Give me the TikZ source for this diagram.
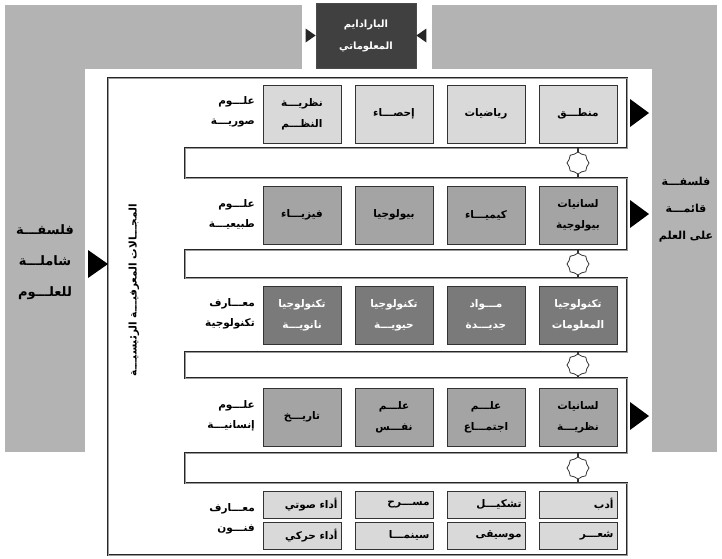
\documentclass[tikz,border=0pt]{standalone}
\usepackage{fontspec}
\usepackage{xcolor}
\usetikzlibrary{shapes.geometric}
\newfontfamily\arabicfont[Script=Arabic]{DejaVu Sans}
\TeXXeTstate=1
\definecolor{panelgray}{HTML}{B3B3B3}
\definecolor{lightbox}{HTML}{D9D9D9}
\definecolor{midbox}{HTML}{A4A4A4}
\definecolor{darkbox}{HTML}{7A7A7A}
\definecolor{topbox}{HTML}{404040}
\newcommand{\ar}[1]{\beginR #1\endR}

\begin{document}
\begin{tikzpicture}[x=1pt,y=-1pt,
    field/.style={draw=black!80, line width=0.9pt, minimum width=78pt, minimum height=58pt, inner sep=1pt, align=center, font=\arabicfont\bfseries\fontsize{10.5}{21}\selectfont},
    artfield/.style={field, minimum height=27pt, text width=71pt, align=right},
    rowlabel/.style={anchor=east, align=right, inner sep=1pt, font=\arabicfont\bfseries\fontsize{10.5}{20}\selectfont},
    sidetext/.style={align=center, inner sep=1pt, font=\arabicfont\bfseries\fontsize{13}{31}\selectfont},
    gear/.style={star, star points=8, star point ratio=1.15, draw=black!80, line width=0.8pt, fill=white, minimum size=22pt, inner sep=0pt}]
  \useasboundingbox (0,0) rectangle (722,558);
  % gray panels and white field
  \fill[panelgray] (5,5) rectangle (717,452);
  \fill[white] (85,69) rectangle (652,558);
  \fill[white] (302,0) rectangle (432,69);
  \node[sidetext] (holistic) at (45,262) {\ar{فلسفـــة}\\\ar{شاملـــة}\\\ar{للعلـــوم}};
  \node[sidetext, font=\arabicfont\bfseries\fontsize{11}{27}\selectfont] (based) at (686,210) {\ar{فلسفـــة}\\\ar{قائمـــة}\\\ar{على العلم}};
  % paradigm box
  \node[draw=black!70, line width=0.8pt, fill=topbox, text=white, minimum width=100pt, minimum height=65pt, align=center, font=\arabicfont\bfseries\fontsize{10}{22}\selectfont] (paradigm) at (366,35.5) {\ar{البارادايم}\\\ar{المعلوماتي}};
  \fill[black!85] (paradigm.west) -- ++(-10,-7) -- ++(0,14) -- cycle;
  \fill[black!85] (paradigm.east) -- ++(10,-7) -- ++(0,14) -- cycle;
  % comb frame
  \draw[draw=black!85, line width=0.7pt, double=black!40, double distance=0.6pt]
    (108,78) -- (627,78) -- (627,148) -- (185,148) -- (185,178) -- (627,178)
    -- (627,250) -- (185,250) -- (185,278) -- (627,278) -- (627,352)
    -- (185,352) -- (185,378) -- (627,378) -- (627,453) -- (185,453)
    -- (185,483) -- (627,483) -- (627,555) -- (108,555) -- cycle;
  \node[rotate=90, inner sep=1pt, font=\arabicfont\bfseries\fontsize{10.5}{12}\selectfont] (domains) at (134,290) {\ar{المجـــالات المعرفيـــة الرئيسيـــة}};
  % rows
  \foreach \n/\x/\txt in {1/578/{\ar{منطـــق}}, 2/486/{\ar{رياضيات}}, 3/394/{\ar{إحصـــاء}}, 4/302/{\ar{نظريـــة}\\\ar{النظـــم}}}
    \node[field, fill=lightbox] (formal\n) at (\x,114) {\txt};
  \foreach \n/\x/\txt in {1/578/{\ar{لسانيات}\\\ar{بيولوجية}}, 2/486/{\ar{كيميـــاء}}, 3/394/{\ar{بيولوجيا}}, 4/302/{\ar{فيزيـــاء}}}
    \node[field, fill=midbox] (natural\n) at (\x,215) {\txt};
  \foreach \n/\x/\txt in {1/578/{\ar{تكنولوجيا}\\\ar{المعلومات}}, 2/486/{\ar{مـــواد}\\\ar{جديـــدة}}, 3/394/{\ar{تكنولوجيا}\\\ar{حيويـــة}}, 4/302/{\ar{تكنولوجيا}\\\ar{نانويـــة}}}
    \node[field, fill=darkbox, text=white] (tech\n) at (\x,315) {\txt};
  \foreach \n/\x/\txt in {1/578/{\ar{لسانيات}\\\ar{نظريـــة}}, 2/486/{\ar{علـــم}\\\ar{اجتمـــاع}}, 3/394/{\ar{علـــم}\\\ar{نفـــس}}, 4/302/{\ar{تاريـــخ}}}
    \node[field, fill=midbox] (human\n) at (\x,417) {\txt};
  \foreach \n/\x/\txt in {1/578/{\ar{أدب}}, 2/486/{\ar{تشكيـــل}}, 3/394/{\ar{مســـرح}}, 4/302/{\ar{أداء صوتي}}}
    \node[artfield, fill=lightbox] (artsa\n) at (\x,504.5) {\txt};
  \foreach \n/\x/\txt in {1/578/{\ar{شعـــر}}, 2/486/{\ar{موسيقى}}, 3/394/{\ar{سينمـــا}}, 4/302/{\ar{أداء حركي}}}
    \node[artfield, fill=lightbox] (artsb\n) at (\x,535.5) {\txt};
  % row labels
  \node[rowlabel] (formal) at (256,112) {\ar{علـــوم}\\\ar{صوريـــة}};
  \node[rowlabel] (natural) at (256,214) {\ar{علـــوم}\\\ar{طبيعيـــة}};
  \node[rowlabel] (tech) at (256,314) {\ar{معـــارف}\\\ar{تكنولوجية}};
  \node[rowlabel] (human) at (256,416) {\ar{علـــوم}\\\ar{إنسانيـــة}};
  \node[rowlabel] (arts) at (256,519) {\ar{معـــارف}\\\ar{فنـــون}};
  % gears between the rows
  \foreach \g/\y/\top/\bot in {1/163/148/178, 2/264/250/278, 3/365/352/378, 4/468/453/483} {
    \coordinate (gtop\g) at (578,\top);
    \coordinate (gbot\g) at (578,\bot);
    \node[gear] (gear\g) at (578,\y) {};
    \draw[black!80, line width=1.2pt] (gear\g.north) -- (gtop\g);
    \draw[black!80, line width=1.2pt] (gear\g.south) -- (gbot\g);
  }
  % triangles
  \fill[black] (108,264) -- (88,250) -- (88,278) -- cycle;
  \foreach \y in {113,214,416}
    \fill[black] (649,\y) -- (630,\y-14) -- (630,\y+14) -- cycle;
\end{tikzpicture}
\end{document}
